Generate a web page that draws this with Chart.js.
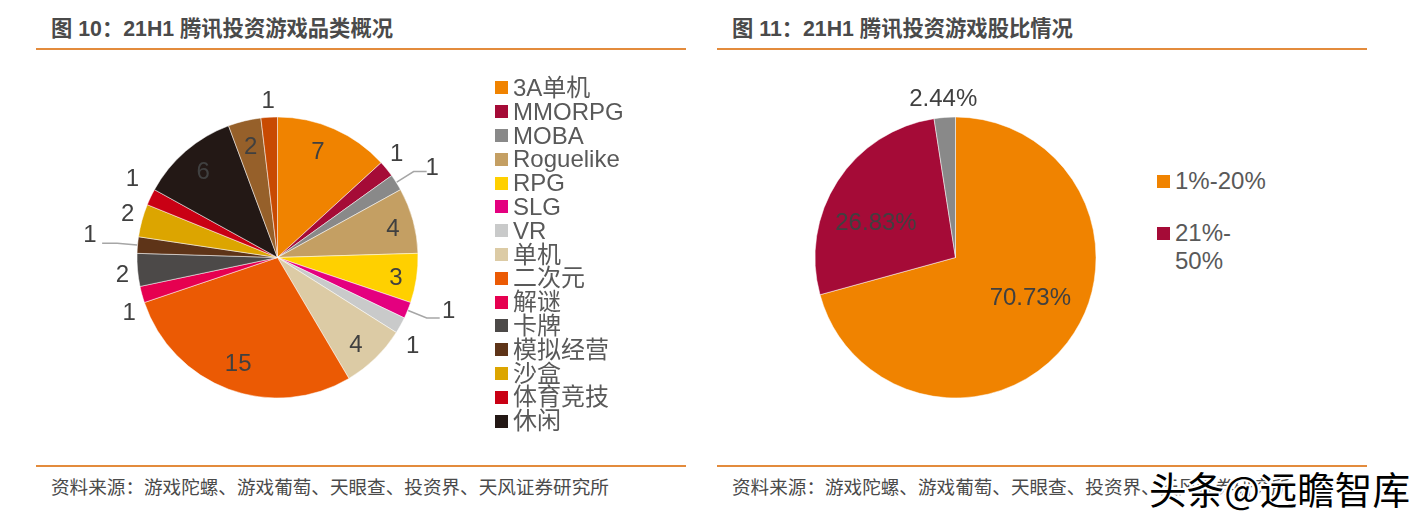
<!DOCTYPE html>
<html lang="zh">
<head>
<meta charset="UTF-8">
<title>21H1 腾讯投资游戏</title>
<script src="https://cdn.jsdelivr.net/npm/chart.js"></script>
<style>
  html, body { margin: 0; padding: 0; background: #fff; }
  body { width: 1425px; height: 526px; position: relative; overflow: hidden;
         font-family: "Liberation Sans", "Noto Sans CJK SC", sans-serif; color: #404040; }
  .title { position: absolute; top: 16px; font-size: 21.3px; line-height: 26px; font-weight: bold; white-space: pre; color: #4a4a4a; }
  .rule { position: absolute; height: 2px; width: 650px; background: #e38b3c; }
  .source { position: absolute; top: 476px; font-size: 18.6px; line-height: 24px; color: #4a4a4a; white-space: pre; }
  canvas { position: absolute; }
  .legend { position: absolute; font-size: 24px; color: #595959; }
  .legend div { position: relative; padding-left: 18px; white-space: pre; }
  .legend i { position: absolute; left: 0; width: 13px; height: 13px; }
  #watermark { position: absolute; left: 1149px; top: 464px; font-size: 37.6px; line-height: 48px; white-space: pre;
               font-family: "Noto Sans CJK SC", sans-serif; color: #000;
               -webkit-text-stroke: 4px #fff; paint-order: stroke fill; }
</style>
</head>
<body>

<div class="title" style="left:51px">图 10：21H1 腾讯投资游戏品类概况</div>
<div class="title" style="left:732px">图 11：21H1 腾讯投资游戏股比情况</div>
<div class="rule" style="left:36px;top:48px"></div>
<div class="rule" style="left:717px;top:48px"></div>
<div class="rule" style="left:36px;top:465px"></div>
<div class="rule" style="left:717px;top:465px"></div>
<div class="source" style="left:51px">资料来源：游戏陀螺、游戏葡萄、天眼查、投资界、天风证券研究所</div>
<div class="source" style="left:732px">资料来源：游戏陀螺、游戏葡萄、天眼查、投资界、天风证券研究所</div>

<canvas id="genreChart" width="481" height="401" style="left:37px;top:57px"></canvas>
<canvas id="stakeChart" width="401" height="401" style="left:755px;top:57px"></canvas>

<div class="legend" id="genreLegend" style="left:495px;top:76px"></div>
<div class="legend" id="stakeLegend" style="left:1157px;top:167px"></div>

<div id="watermark">头条@远瞻智库</div>

<script>
// the last slices of each pie have no legend entry in the picture, so no name either
const genreNames = ['3A单机', 'MMORPG', 'MOBA', 'Roguelike', 'RPG', 'SLG', 'VR', '单机', '二次元',
                    '解谜', '卡牌', '模拟经营', '沙盒', '体育竞技', '休闲', '', ''];
const genreCounts = [7, 1, 1, 4, 3, 1, 1, 4, 15, 1, 2, 1, 2, 1, 6, 2, 1];
const genreColors = ['#f08300', '#a50b37', '#898989', '#c49f63', '#ffd000', '#e4007f', '#c9caca', '#dccba5',
                     '#eb5a04', '#e60050', '#4c4948', '#5e3418', '#dca500', '#c90014', '#231815', '#96602a', '#c84a02'];

const stakeNames = ['1%-20%', '21%-\n50%', ''];
const stakeShares = [70.73, 26.83, 2.44];
const stakeColors = ['#f08300', '#a50b37', '#898989'];

// label placement: distance from pie centre (px) and turn away from the slice middle (deg)
const genreLabelDist = [114, 158, 179, 119, 120, 179, 161, 117, 113, 158, 156, 189, 156, 165, 114, 114, 157];
const genreLabelTurn = [-3, -2, 2, 1, 1, -5, 4, 2, 0, -5, -1, 2, 1, 3, 0, 0, 0];
const genreLeaders = [2, 5, 11];
const stakeLabelDist = [85, 87, 160];
const stakeLabelTurn = [-9, -9, 0];

const pieLabels = {
  id: 'pieLabels',
  afterDatasetsDraw(chart, args, opts) {
    const ctx = chart.ctx;
    const arcs = chart.getDatasetMeta(0).data;
    ctx.save();
    // leader lines go under the text
    ctx.strokeStyle = '#a6a6a6';
    ctx.lineWidth = 1.5;
    (opts.leaders || []).forEach(i => {
      const a = arcs[i];
      const mid = (a.startAngle + a.endAngle) / 2;
      const x1 = a.x + Math.cos(mid) * 141, y1 = a.y + Math.sin(mid) * 141;
      const x2 = a.x + Math.cos(mid) * 161, y2 = a.y + Math.sin(mid) * 161;
      ctx.beginPath();
      ctx.moveTo(x1, y1);
      ctx.lineTo(x2, y2);
      ctx.lineTo(x2 + (x2 > a.x ? 13 : -15), y2);
      ctx.stroke();
    });
    ctx.font = '24px "Liberation Sans", sans-serif';
    ctx.fillStyle = '#404040';
    ctx.textAlign = 'center';
    ctx.textBaseline = 'middle';
    arcs.forEach((a, i) => {
      const ang = (a.startAngle + a.endAngle) / 2 + opts.turn[i] * Math.PI / 180;
      ctx.fillText(opts.text[i], a.x + Math.cos(ang) * opts.dist[i], a.y + Math.sin(ang) * opts.dist[i] + 1);
    });
    ctx.restore();
  }
};

function makePie(id, names, values, colors, labelOpts) {
  return new Chart(document.getElementById(id), {
    type: 'pie',
    data: { labels: names, datasets: [{ data: values, backgroundColor: colors, borderColor: '#fff', borderWidth: 0.5, radius: 140.5 }] },
    options: {
      responsive: false,
      animation: false,
      plugins: { legend: { display: false }, tooltip: { enabled: false }, pieLabels: labelOpts }
    },
    plugins: [pieLabels]
  });
}

function fillLegend(id, names, colors, lineHeight, gap) {
  const box = document.getElementById(id);
  names.forEach((name, i) => {
    if (!name) return;
    const row = document.createElement('div');
    row.style.lineHeight = lineHeight + 'px';
    row.style.marginBottom = gap + 'px';
    row.textContent = name;
    const swatch = document.createElement('i');
    swatch.style.background = colors[i];
    swatch.style.top = (lineHeight - 13) / 2 + 'px';
    row.appendChild(swatch);
    box.appendChild(row);
  });
}

makePie('genreChart', genreNames, genreCounts, genreColors, {
  text: genreCounts, dist: genreLabelDist, turn: genreLabelTurn, leaders: genreLeaders
});
makePie('stakeChart', stakeNames, stakeShares, stakeColors, {
  text: stakeShares.map(v => v.toFixed(2) + '%'), dist: stakeLabelDist, turn: stakeLabelTurn
});

fillLegend('genreLegend', genreNames, genreColors, 23.8, 0);
fillLegend('stakeLegend', stakeNames, stakeColors, 28, 24);
</script>
</body>
</html>
